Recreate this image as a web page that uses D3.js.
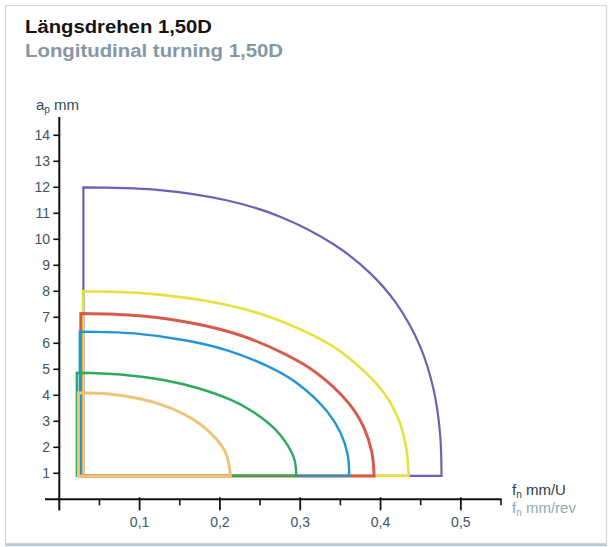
<!DOCTYPE html>
<html>
<head>
<meta charset="utf-8">
<script src="https://cdn.jsdelivr.net/npm/d3@7"></script>
<style>
  body { margin: 0; background: #fff; }
  svg { display: block; }
  text { font-family: "Liberation Sans", Arial, Helvetica, sans-serif; }
</style>
</head>
<body>
<svg id="chart" width="611" height="547"></svg>
<script>
// Application ranges: feed f_n (mm/rev) versus depth of cut a_p (mm)
const baseDepth = 0.9;

const fPurple  = [0.030, 0.119, 0.208, 0.275, 0.342, 0.387, 0.419, 0.449, 0.466, 0.474, 0.476];
const apPurple = [12.0, 11.91, 11.50, 10.87, 9.80, 8.70, 7.56, 5.90, 4.23, 2.57, 0.9];

const fYellow  = [0.0295, 0.111, 0.192, 0.253, 0.313, 0.354, 0.404, 0.423, 0.432, 0.435];
const apYellow = [8.0, 7.91, 7.58, 7.11, 6.35, 5.60, 4.10, 3.03, 1.97, 0.9];

const fRed  = [0.0268, 0.100, 0.173, 0.228, 0.282, 0.319, 0.360, 0.379, 0.389, 0.392];
const apRed = [7.15, 7.06, 6.73, 6.28, 5.57, 4.89, 3.71, 2.78, 1.84, 0.9];

const fBlue  = [0.0255, 0.093, 0.160, 0.210, 0.260, 0.294, 0.333, 0.350, 0.359, 0.361];
const apBlue = [6.45, 6.38, 6.10, 5.72, 5.11, 4.51, 3.40, 2.57, 1.73, 0.9];

const fGreen  = [0.0218, 0.076, 0.131, 0.172, 0.213, 0.240, 0.269, 0.284, 0.293, 0.295];
const apGreen = [4.87, 4.80, 4.58, 4.28, 3.83, 3.39, 2.69, 2.09, 1.50, 0.9];

const fOrange  = [0.0238, 0.062, 0.100, 0.128, 0.156, 0.175, 0.195, 0.206, 0.211, 0.213];
const apOrange = [4.10, 4.05, 3.87, 3.63, 3.26, 2.90, 2.34, 1.86, 1.38, 0.9];

const yTickValues = [1, 2, 3, 4, 5, 6, 7, 8, 9, 10, 11, 12, 13, 14];
const xTickValues = [0.1, 0.2, 0.3, 0.4, 0.5];
const xTickLabels = ["0,1", "0,2", "0,3", "0,4", "0,5"];
const xMinorTicks = [0.05, 0.15, 0.25, 0.35, 0.45, 0.55];

// drawn largest first so the smaller ranges sit on top
const envelopes = [
  { f: fPurple, ap: apPurple, color: "#6a62b6", width: 2.2 },
  { f: fYellow, ap: apYellow, color: "#e8e13c", width: 2.6 },
  { f: fRed,    ap: apRed,    color: "#d85a4b", width: 3.0 },
  { f: fBlue,   ap: apBlue,   color: "#2196d3", width: 2.4 },
  { f: fGreen,  ap: apGreen,  color: "#2eaa5e", width: 2.4 },
  { f: fOrange, ap: apOrange, color: "#f2c27a", width: 3.0 }
];

const svg = d3.select("#chart");

const x = d3.scaleLinear().domain([0, 0.55]).range([59.3, 501]);
const y = d3.scaleLinear().domain([0, 14]).range([499.3, 135.3]);

// frame
svg.append("rect")
  .attr("x", 5.5).attr("y", 5.5).attr("width", 601).attr("height", 538)
  .attr("fill", "#fff").attr("stroke", "#d3d6da").attr("stroke-width", 1.2);
svg.append("line")
  .attr("x1", 5).attr("x2", 607).attr("y1", 545).attr("y2", 545)
  .attr("stroke", "#b9ccd6").attr("stroke-width", 2.5);

// titles
svg.append("text")
  .attr("x", 25).attr("y", 33)
  .attr("font-size", 17.5).attr("font-weight", "bold").attr("fill", "#141414")
  .attr("textLength", 187).attr("lengthAdjust", "spacingAndGlyphs")
  .text("Längsdrehen 1,50D");
svg.append("text")
  .attr("x", 25).attr("y", 57)
  .attr("font-size", 17.5).attr("font-weight", "bold").attr("fill", "#8497a6")
  .attr("textLength", 258).attr("lengthAdjust", "spacingAndGlyphs")
  .text("Longitudinal turning 1,50D");

// envelopes: left edge and base are straight, the outer boundary is a smooth arc
const arc = d3.line()
  .x(d => x(d[0]))
  .y(d => y(d[1]))
  .curve(d3.curveCatmullRom.alpha(0.5));

const gEnv = svg.append("g");
envelopes.forEach(e => {
  const pts = e.f.map((v, i) => [v, e.ap[i]]);
  const arcPath = arc(pts);
  const d = `M${x(e.f[0])},${y(baseDepth)}L` + arcPath.slice(1) + "Z";
  gEnv.append("path")
    .attr("d", d)
    .attr("fill", "none")
    .attr("stroke", e.color)
    .attr("stroke-width", e.width)
    .attr("stroke-linejoin", "miter");
});

// axes
const axisColor = "#111";
const labelColor = "#3e5466";

svg.append("line")
  .attr("x1", x(0)).attr("x2", x(0)).attr("y1", 117).attr("y2", 510.5)
  .attr("stroke", axisColor).attr("stroke-width", 2);
svg.append("line")
  .attr("x1", 45).attr("x2", x(0.55) + 0.5).attr("y1", y(0)).attr("y2", y(0))
  .attr("stroke", axisColor).attr("stroke-width", 2);

const gy = svg.append("g");
gy.selectAll("line").data(yTickValues).join("line")
  .attr("x1", x(0) - 6).attr("x2", x(0))
  .attr("y1", d => y(d)).attr("y2", d => y(d))
  .attr("stroke", axisColor).attr("stroke-width", 1.6);
gy.selectAll("text").data(yTickValues).join("text")
  .attr("x", 50).attr("y", d => y(d)).attr("dy", "0.36em")
  .attr("text-anchor", "end").attr("font-size", 14).attr("fill", labelColor)
  .text(d => d);

const gx = svg.append("g");
gx.selectAll("line.major").data(xTickValues).join("line")
  .attr("class", "major")
  .attr("x1", d => x(d)).attr("x2", d => x(d))
  .attr("y1", y(0) - 2).attr("y2", y(0) + 11)
  .attr("stroke", axisColor).attr("stroke-width", 1.8);
gx.selectAll("line.minor").data(xMinorTicks).join("line")
  .attr("class", "minor")
  .attr("x1", d => x(d)).attr("x2", d => x(d))
  .attr("y1", y(0)).attr("y2", y(0) + 6)
  .attr("stroke", axisColor).attr("stroke-width", 1.6);
gx.selectAll("text").data(xTickValues).join("text")
  .attr("x", d => x(d)).attr("y", 526.5)
  .attr("text-anchor", "middle").attr("font-size", 14).attr("fill", labelColor)
  .text((d, i) => xTickLabels[i]);

// axis titles
const yTitle = svg.append("text")
  .attr("x", 36).attr("y", 110).attr("font-size", 15).attr("fill", "#34495a");
yTitle.append("tspan").text("a");
yTitle.append("tspan").attr("font-size", 10).attr("dy", 3).text("p");
yTitle.append("tspan").attr("dy", -3).text(" mm");

const xTitle1 = svg.append("text")
  .attr("x", 512).attr("y", 495).attr("font-size", 15).attr("fill", "#2e3e4a");
xTitle1.append("tspan").text("f");
xTitle1.append("tspan").attr("font-size", 10).attr("dy", 3).text("n");
xTitle1.append("tspan").attr("dy", -3).text(" mm/U");

const xTitle2 = svg.append("text")
  .attr("x", 512).attr("y", 513).attr("font-size", 15).attr("fill", "#93a7b5");
xTitle2.append("tspan").text("f");
xTitle2.append("tspan").attr("font-size", 10).attr("dy", 3).text("n");
xTitle2.append("tspan").attr("dy", -3).text(" mm/rev");
</script>
</body>
</html>
